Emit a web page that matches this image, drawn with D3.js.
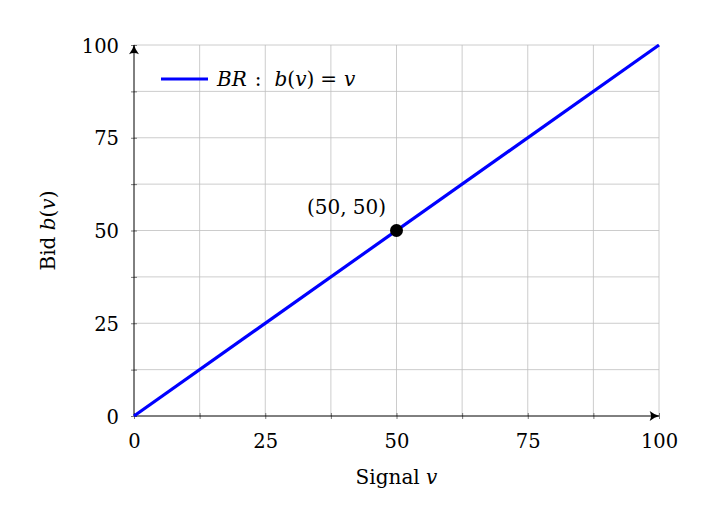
<!DOCTYPE html>
<html>
<head>
<meta charset="utf-8">
<script src="https://cdn.jsdelivr.net/npm/d3@7"></script>
<style>
  html, body { margin: 0; padding: 0; background: #fff; }
  svg { display: block; }
  text { font-family: "DejaVu Serif", "Liberation Serif", serif; fill: #000; }
</style>
</head>
<body>
<div class="visHolder"></div>
<script>
const w = 716, h = 527;
const margin = {left: 134, right: 57, top: 45, bottom: 111};

// data
const signal = [0, 100];
const bid = [0, 100];
const markPoint = [50, 50];
const majorTicks = [0, 25, 50, 75, 100];
const gridTicks = [0, 12.5, 25, 37.5, 50, 62.5, 75, 87.5, 100];

const svg = d3.select('.visHolder')
  .append('svg')
  .attr('width', w)
  .attr('height', h);

const xScale = d3.scaleLinear()
  .domain([0, 100])
  .range([margin.left, w - margin.right]);

const yScale = d3.scaleLinear()
  .domain([0, 100])
  .range([h - margin.bottom, margin.top]);

// arrow marker
svg.append('defs').append('marker')
  .attr('id', 'arrow')
  .attr('viewBox', '0 0 10 10')
  .attr('refX', 9).attr('refY', 5)
  .attr('markerWidth', 11).attr('markerHeight', 11)
  .attr('markerUnits', 'userSpaceOnUse')
  .attr('orient', 'auto')
  .append('path')
  .attr('d', 'M0.5,0.5 Q5,4 9.5,5 Q5,6 0.5,9.5 Q3,5 0.5,0.5 Z')
  .attr('fill', '#000');

// grid
const grid = svg.append('g').attr('stroke', '#bfbfbf').attr('stroke-width', 0.8);
grid.selectAll('line.gx')
  .data(gridTicks.slice(1))
  .join('line')
  .attr('x1', d => xScale(d)).attr('x2', d => xScale(d))
  .attr('y1', yScale(0)).attr('y2', yScale(100));
grid.selectAll('line.gy')
  .data(gridTicks.slice(1))
  .join('line')
  .attr('x1', xScale(0)).attr('x2', xScale(100))
  .attr('y1', d => yScale(d)).attr('y2', d => yScale(d));

// axes with small ticks
const xAxis = d3.axisBottom(xScale)
  .tickValues(gridTicks)
  .tickSize(0)
  .tickFormat(d => majorTicks.includes(d) ? d3.format('d')(d) : '');

const yAxis = d3.axisLeft(yScale)
  .tickValues(gridTicks)
  .tickSize(0)
  .tickFormat(d => majorTicks.includes(d) ? d3.format('d')(d) : '');

const gx = svg.append('g')
  .attr('transform', `translate(0, ${yScale(0)})`)
  .call(xAxis);
gx.select('.domain').remove();
gx.selectAll('.tick line')
  .attr('y1', -3).attr('y2', 3)
  .attr('stroke', '#555').attr('stroke-width', 0.8);
gx.selectAll('.tick text')
  .attr('dy', 0).attr('y', 32)
  .style('font-size', '19.5px');

const gy = svg.append('g')
  .attr('transform', `translate(${xScale(0)}, 0)`)
  .call(yAxis);
gy.select('.domain').remove();
gy.selectAll('.tick line')
  .attr('x1', -3).attr('x2', 3)
  .attr('stroke', '#555').attr('stroke-width', 0.8);
gy.selectAll('.tick text')
  .attr('x', -15).attr('dy', '0.36em')
  .style('font-size', '19.5px');

// axis lines with arrows
svg.append('line')
  .attr('x1', xScale(0)).attr('x2', xScale(100))
  .attr('y1', yScale(0)).attr('y2', yScale(0))
  .attr('stroke', '#000').attr('stroke-width', 1)
  .attr('marker-end', 'url(#arrow)');
svg.append('line')
  .attr('x1', xScale(0)).attr('x2', xScale(0))
  .attr('y1', yScale(0)).attr('y2', yScale(100))
  .attr('stroke', '#000').attr('stroke-width', 1)
  .attr('marker-end', 'url(#arrow)');

// best response line
const line = d3.line()
  .x(d => xScale(d[0]))
  .y(d => yScale(d[1]));

svg.append('path')
  .datum(d3.zip(signal, bid))
  .attr('d', line)
  .attr('fill', 'none')
  .attr('stroke', '#0000ff')
  .attr('stroke-width', 3.2);

// marked point
svg.append('circle')
  .attr('cx', xScale(markPoint[0]))
  .attr('cy', yScale(markPoint[1]))
  .attr('r', 6.5)
  .attr('fill', '#000');

svg.append('text')
  .attr('x', xScale(markPoint[0]) - 50)
  .attr('y', yScale(markPoint[1]) - 17)
  .attr('text-anchor', 'middle')
  .style('font-size', '20px')
  .text(`(${markPoint[0]}, ${markPoint[1]})`);

// legend
const legend = svg.append('g').attr('transform', 'translate(161, 79)');
legend.append('line')
  .attr('x1', 0).attr('x2', 47)
  .attr('y1', 0).attr('y2', 0)
  .attr('stroke', '#0000ff').attr('stroke-width', 3.2);
const lt = legend.append('text')
  .attr('x', 56).attr('y', 7)
  .style('font-size', '20px');
lt.append('tspan').style('font-style', 'italic').text('BR');
lt.append('tspan').attr('dx', 8).text(':');
lt.append('tspan').attr('dx', 13).style('font-style', 'italic').text('b');
lt.append('tspan').text('(');
lt.append('tspan').style('font-style', 'italic').text('v');
lt.append('tspan').text(')');
lt.append('tspan').attr('dx', 6).text('=');
lt.append('tspan').attr('dx', 7).style('font-style', 'italic').text('v');

// axis titles
const xt = svg.append('text')
  .attr('x', (xScale(0) + xScale(100)) / 2)
  .attr('y', 484)
  .attr('text-anchor', 'middle')
  .style('font-size', '20px');
xt.append('tspan').text('Signal ');
xt.append('tspan').style('font-style', 'italic').text('v');

const yt = svg.append('text')
  .attr('transform', `translate(55, ${(yScale(0) + yScale(100)) / 2}) rotate(-90)`)
  .attr('text-anchor', 'middle')
  .style('font-size', '20px');
yt.append('tspan').text('Bid ');
yt.append('tspan').style('font-style', 'italic').text('b');
yt.append('tspan').text('(');
yt.append('tspan').style('font-style', 'italic').text('v');
yt.append('tspan').text(')');
</script>
</body>
</html>
